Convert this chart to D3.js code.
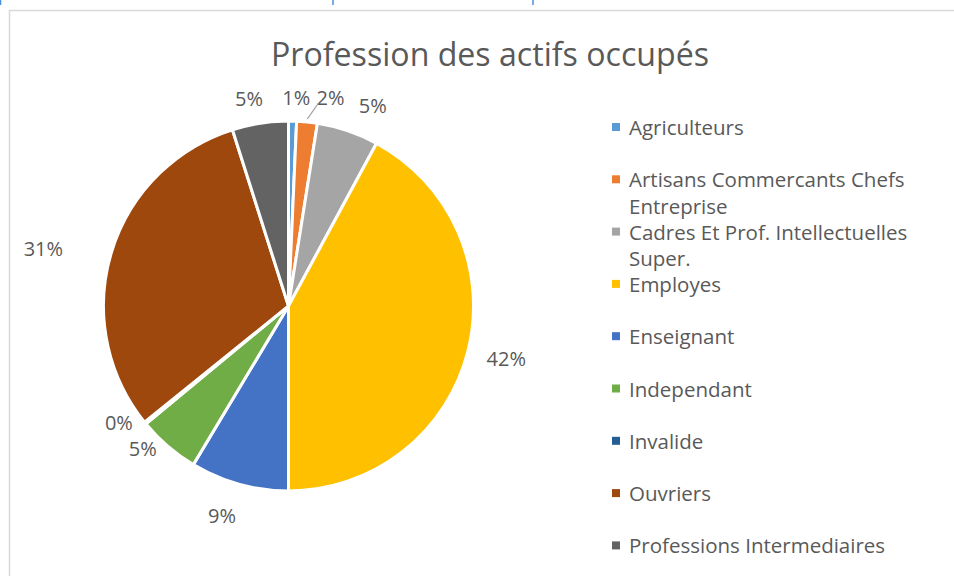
<!DOCTYPE html>
<html>
<head>
<meta charset="utf-8">
<script src="https://cdn.jsdelivr.net/npm/d3@7"></script>
<style>
  body { margin: 0; background: #fff; }
  svg text { font-family: "Open Sans", "Noto Sans", sans-serif; fill: #595959; }
</style>
</head>
<body>
<svg id="chart" width="954" height="576"></svg>
<script>
var title = "Profession des actifs occupés";
var categories = [
    "Agriculteurs",
    "Artisans Commercants Chefs Entreprise",
    "Cadres Et Prof. Intellectuelles Super.",
    "Employes",
    "Enseignant",
    "Independant",
    "Invalide",
    "Ouvriers",
    "Professions Intermediaires"
];
// share of each profession, in percent
var values = [0.7, 1.8, 5.4, 42.1, 8.6, 5.4, 0.2, 30.9, 4.9];
var labels = ["1%", "2%", "5%", "42%", "9%", "5%", "0%", "31%", "5%"];
var colors = ["#5B9BD5", "#ED7D31", "#A5A5A5", "#FFC000", "#4472C4", "#70AD47", "#255E91", "#9E480E", "#636363"];
// manual label moves, like the ones done by hand in the sheet
var labelNudge = [[3, 6], [20, 5], [14, 3], [0, 0], [-8, 2], [-3, -21], [0, -20], [-30, 4], [-6, 5]];
var leader = [false, true, false, false, false, false, false, false, false];

var svg = d3.select("#chart");
var width = 954, height = 576;

// blue bits of the cell above, cut by the crop
svg.append("g").selectAll("line")
    .data([0.5, 333, 533])
    .enter().append("line")
    .attr("x1", d => d).attr("x2", d => d)
    .attr("y1", 0).attr("y2", 5)
    .attr("stroke", "#4a8fd8").attr("stroke-width", 1.5);

// chart frame
svg.append("path")
    .attr("d", "M9.5," + height + "V10.5H" + width)
    .attr("fill", "none")
    .attr("stroke", "#d9d9d9")
    .attr("stroke-width", 1.5);

var tt = svg.append("text")
    .attr("x", 490)
    .attr("y", 66)
    .attr("text-anchor", "middle")
    .attr("font-size", 30)
    .text(title);
// fit the title to the width it takes in the sheet
var tw = tt.node().getComputedTextLength();
tt.attr("font-size", 30 * 438 / tw);

var cx = 288.5, cy = 306, r = 185;

var pie = d3.pie().sort(null).value(d => d);
var arcs = pie(values);
var arc = d3.arc().innerRadius(0).outerRadius(r);

var g = svg.append("g").attr("transform", "translate(" + cx + "," + cy + ")");

g.selectAll(".slice")
    .data(arcs)
    .enter().append("path")
    .attr("class", "slice")
    .attr("d", arc)
    .attr("fill", (d, i) => colors[i])
    .attr("stroke", "#fff")
    .attr("stroke-width", 3)
    .attr("stroke-linejoin", "round");

// data labels, outside end
var labelSize = 20;
arcs.forEach(function(d, i){
    var a = (d.startAngle + d.endAngle) / 2;
    var ux = Math.sin(a), uy = -Math.cos(a);
    var t = g.append("text")
        .attr("font-size", labelSize)
        .attr("text-anchor", "middle")
        .attr("dominant-baseline", "central")
        .text(labels[i]);
    var w = t.node().getComputedTextLength();
    var h = labelSize;
    var lx = (r + 20) * ux + w / 2 * ux + labelNudge[i][0];
    var ly = (r + 20) * uy + h / 2 * uy + labelNudge[i][1];
    t.attr("x", lx).attr("y", ly);
    if (leader[i]) {
        g.append("line")
            .attr("x1", (r + 3) * ux).attr("y1", (r + 3) * uy)
            .attr("x2", lx - w / 2 + 2).attr("y2", ly + 6)
            .attr("stroke", "#a6a6a6")
            .attr("stroke-width", 1.2);
    }
});

// legend
var legendX = 612, legendY = 127, legendStep = 52.3, lineH = 26.5, maxW = 292;
var legendFont = 20.5;
var lg = svg.append("g");
categories.forEach(function(name, i){
    var y = legendY + i * legendStep;
    lg.append("rect")
        .attr("x", legendX)
        .attr("y", y - 4)
        .attr("width", 8)
        .attr("height", 8)
        .attr("fill", colors[i]);
    var t = lg.append("text")
        .attr("x", legendX + 17)
        .attr("y", y)
        .attr("font-size", legendFont)
        .attr("dominant-baseline", "central");
    // wrap by width
    var words = name.split(" "), line = [];
    var ts = t.append("tspan").attr("x", legendX + 17).attr("dy", 0);
    words.forEach(function(wd){
        line.push(wd);
        ts.text(line.join(" "));
        if (ts.node().getComputedTextLength() > maxW && line.length > 1) {
            line.pop();
            ts.text(line.join(" "));
            line = [wd];
            ts = t.append("tspan").attr("x", legendX + 17).attr("dy", lineH).text(wd);
        }
    });
});
</script>
</body>
</html>
